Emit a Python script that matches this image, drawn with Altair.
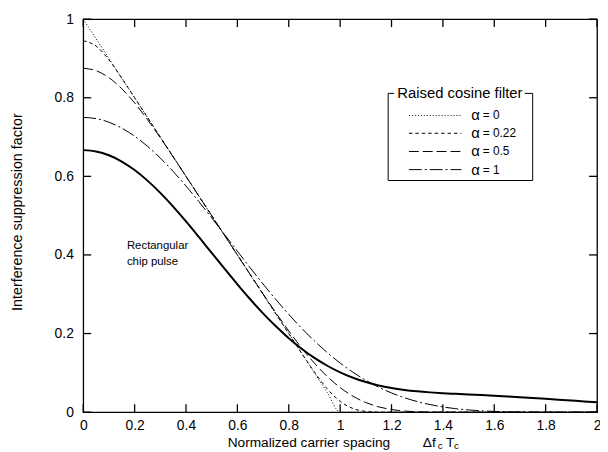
import altair as alt
import pandas as pd

# ---------------- data ----------------
x_vals = [0.0, 0.05, 0.1, 0.15, 0.2, 0.25, 0.3, 0.35, 0.4, 0.45, 0.5,
          0.55, 0.6, 0.65, 0.7, 0.75, 0.8, 0.85, 0.9, 0.95, 1.0,
          1.05, 1.1, 1.15, 1.2, 1.25, 1.3, 1.35, 1.4, 1.45, 1.5,
          1.55, 1.6, 1.65, 1.7, 1.75, 1.8, 1.85, 1.9, 1.95, 2.0]

alpha_0 = [1.0, 0.95, 0.9, 0.85, 0.8, 0.75, 0.7, 0.65, 0.6, 0.55, 0.5,
           0.45, 0.4, 0.35, 0.3, 0.25, 0.2, 0.15, 0.1, 0.05, 0.0,
           0, 0, 0, 0, 0, 0, 0, 0, 0, 0,
           0, 0, 0, 0, 0, 0, 0, 0, 0, 0]

alpha_022 = [0.945, 0.9315, 0.8963, 0.8497, 0.8, 0.75, 0.7, 0.65, 0.6, 0.55, 0.5,
             0.45, 0.4, 0.35, 0.3, 0.25, 0.2, 0.1501, 0.1019, 0.0592, 0.0275,
             0.0092, 0.0019, 0.0001, 0, 0, 0, 0, 0, 0, 0,
             0, 0, 0, 0, 0, 0, 0, 0, 0, 0]

alpha_05 = [0.875, 0.8689, 0.8511, 0.823, 0.7867, 0.7444, 0.6981, 0.6495, 0.5999, 0.55, 0.5,
            0.45, 0.4, 0.3502, 0.301, 0.2528, 0.2067, 0.1635, 0.1245, 0.0906, 0.0625,
            0.0406, 0.0245, 0.0135, 0.0067, 0.0028, 0.001, 0.0002, 0, 0, 0,
            0, 0, 0, 0, 0, 0, 0, 0, 0, 0]

alpha_1 = [0.75, 0.7469, 0.7378, 0.7227, 0.7022, 0.6766, 0.6465, 0.6125, 0.5753, 0.5357, 0.4944,
           0.452, 0.4095, 0.3673, 0.3261, 0.2864, 0.2488, 0.2136, 0.1811, 0.1515, 0.125,
           0.1015, 0.0811, 0.0636, 0.0489, 0.0368, 0.027, 0.0193, 0.0133, 0.0088, 0.0056,
           0.0034, 0.0019, 0.001, 0.0005, 0.0002, 0.0001, 0, 0, 0, 0]

rect_chip = [0.6667, 0.6634, 0.6536, 0.6377, 0.616, 0.5891, 0.5578, 0.5228, 0.4852, 0.4457, 0.4053,
             0.3649, 0.3253, 0.2873, 0.2515, 0.2184, 0.1883, 0.1615, 0.1381, 0.1181, 0.1013,
             0.0876, 0.0766, 0.068, 0.0615, 0.0566, 0.053, 0.0503, 0.0482, 0.0466, 0.045,
             0.0435, 0.0419, 0.0401, 0.0382, 0.0361, 0.0339, 0.0317, 0.0295, 0.0273, 0.0253]

series_names = ["a0", "a022", "a05", "a1"]
legend_values = ["= 0", "= 0.22", "= 0.5", "= 1"]
legend_title = "Raised cosine filter"
x_ticks = [0, 0.2, 0.4, 0.6, 0.8, 1.0, 1.2, 1.4, 1.6, 1.8, 2.0]
y_ticks = [0, 0.2, 0.4, 0.6, 0.8, 1.0]
annotation_lines = ["Rectangular", "chip pulse"]
annotation_x = [0.17, 0.17]
annotation_y = [0.422, 0.382]

# ---------------- layout constants ----------------
FONT = "Liberation Sans"
W, H = 519, 397
X_MAX, Y_MAX = 2.0, 1.0
TICK = 8                      # tick length in pixels
HALF = TICK / 2

# ---------------- build tables ----------------
rows = []
for name, ys in zip(series_names, [alpha_0, alpha_022, alpha_05, alpha_1]):
    for xv, yv in zip(x_vals, ys):
        rows.append({"series": name, "x": xv, "y": yv})
df = pd.DataFrame(rows)
rect_df = pd.DataFrame({"x": x_vals, "y": rect_chip})
xt_df = pd.DataFrame({"v": x_ticks})
yt_df = pd.DataFrame({"v": y_ticks})

x_scale = alt.Scale(domain=[0, X_MAX], nice=False, zero=False)
y_scale = alt.Scale(domain=[0, Y_MAX], nice=False)
dash_scale = alt.Scale(domain=series_names,
                       range=[[1, 2], [3.5, 3], [10, 4], [13, 3, 2, 3]])

common_axis = dict(grid=False, domain=False, ticks=True, tickSize=0, tickOpacity=0,
                   labelColor="black", labelFont=FONT, labelFontSize=14, title=None,
                   labelFlush=False, labelOverlap=False, labelBound=False)
bottom_axis = alt.Axis(orient="bottom", values=x_ticks, format="~g",
                       labelPadding=7, **common_axis)
left_axis = alt.Axis(orient="left", values=y_ticks, format="~g",
                     labelPadding=10, **common_axis)

lines = alt.Chart(df).mark_line(interpolate="monotone", color="black",
                                strokeWidth=1).encode(
    x=alt.X("x:Q", scale=x_scale, axis=bottom_axis),
    y=alt.Y("y:Q", scale=y_scale, axis=left_axis),
    strokeDash=alt.StrokeDash("series:N", scale=dash_scale, legend=None),
    detail="series:N",
)

rect_line = alt.Chart(rect_df).mark_line(interpolate="monotone", color="black",
                                         strokeWidth=2).encode(
    x=alt.X("x:Q", scale=x_scale),
    y=alt.Y("y:Q", scale=y_scale),
)

# inward ticks on the four sides of the frame (tick marks through the scales)
tick_style = dict(color="black", thickness=1.3, size=TICK, opacity=1)
tk_bottom = alt.Chart(xt_df).mark_tick(orient="vertical", **tick_style).encode(
    x=alt.X("v:Q", scale=x_scale), y=alt.value(H - HALF))
tk_top = alt.Chart(xt_df).mark_tick(orient="vertical", **tick_style).encode(
    x=alt.X("v:Q", scale=x_scale), y=alt.value(HALF))
tk_left = alt.Chart(yt_df).mark_tick(orient="horizontal", **tick_style).encode(
    y=alt.Y("v:Q", scale=y_scale), x=alt.value(HALF))
tk_right = alt.Chart(yt_df).mark_tick(orient="horizontal", **tick_style).encode(
    y=alt.Y("v:Q", scale=y_scale), x=alt.value(W - HALF))

annot = alt.Chart(pd.DataFrame({"t": annotation_lines, "x": annotation_x, "y": annotation_y})).mark_text(
    align="left", baseline="middle", font=FONT, fontSize=11.5, color="black"
).encode(
    x=alt.X("x:Q", scale=x_scale),
    y=alt.Y("y:Q", scale=y_scale),
    text="t:N",
)

# ---------------- legend (pixel layout relative to plot origin) ----------------
bx0, bx1, by0, by1 = 308, 454, 75, 163
box_df = pd.DataFrame({
    "x": [bx0, bx1, bx0, bx0, 446],
    "x2": [bx0, bx1, bx1, 314, bx1],
    "y": [by0, by0, by1, by0, by0],
    "y2": [by1, by1, by1, by0, by0],
})
box = alt.Chart(box_df).mark_rule(color="black", strokeWidth=1).encode(
    x=alt.X("x:Q", scale=None), x2="x2:Q",
    y=alt.Y("y:Q", scale=None), y2="y2:Q",
)

row_y = [97.3, 115.3, 133.7, 152]
samp_df = pd.DataFrame({"series": series_names, "y": row_y,
                        "x": [329] * 4, "x2": [382] * 4, "lab": legend_values})
samples = alt.Chart(samp_df).mark_rule(color="black", strokeWidth=1).encode(
    x=alt.X("x:Q", scale=None), x2="x2:Q",
    y=alt.Y("y:Q", scale=None),
    strokeDash=alt.StrokeDash("series:N", scale=dash_scale, legend=None),
)
alpha_txt = alt.Chart(samp_df).mark_text(
    text="α", align="left", baseline="middle", font=FONT, fontSize=15, color="black"
).encode(x=alt.value(392), y=alt.Y("y:Q", scale=None))
val_txt = alt.Chart(samp_df).mark_text(
    align="left", baseline="middle", font=FONT, fontSize=12, color="black"
).encode(x=alt.value(403.5), y=alt.Y("y:Q", scale=None), text="lab:N")

leg_title = alt.Chart(pd.DataFrame({"t": [legend_title]})).mark_text(
    align="center", baseline="middle", font=FONT, fontSize=15, color="black"
).encode(x=alt.value(380.5), y=alt.value(75), text="t:N")

# ---------------- axis titles ----------------
y_title = alt.Chart(pd.DataFrame({"t": ["Interference suppression factor"]})).mark_text(
    angle=270, align="center", baseline="middle", font=FONT, fontSize=14.5, color="black"
).encode(x=alt.value(-66), y=alt.value(195), text="t:N")

TY = 428
x_title_main = alt.Chart(pd.DataFrame({"t": ["Normalized carrier spacing"]})).mark_text(
    align="right", baseline="middle", font=FONT, fontSize=13.8, color="black"
).encode(x=alt.value(310), y=alt.value(TY), text="t:N")
x_title_big = alt.Chart(pd.DataFrame({"t": ["Δf", "T"], "x": [343, 366.5]})).mark_text(
    align="left", baseline="middle", font=FONT, fontSize=13.8, color="black"
).encode(x=alt.X("x:Q", scale=None), y=alt.value(TY), text="t:N")
x_title_sub = alt.Chart(pd.DataFrame({"t": ["c", "c"], "x": [358, 374.5]})).mark_text(
    align="left", baseline="middle", font=FONT, fontSize=10, color="black"
).encode(x=alt.X("x:Q", scale=None), y=alt.value(TY + 3), text="t:N")

chart = alt.layer(
    lines, rect_line, annot,
    box, samples, alpha_txt, val_txt, leg_title,
    y_title, x_title_main, x_title_big, x_title_sub,
    tk_bottom, tk_top, tk_left, tk_right
).properties(
    width=W, height=H, autosize="none",
    padding={"left": 76, "top": 9, "right": 3, "bottom": 38},
).configure_view(stroke="black", strokeWidth=1.3)

chart.save("out.html", embed_options={"renderer": "svg", "actions": False})
